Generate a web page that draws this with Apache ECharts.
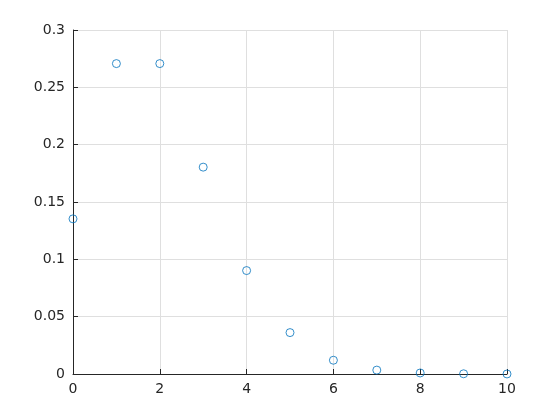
<!DOCTYPE html>
<html>
<head>
<meta charset="utf-8">
<script src="https://cdn.jsdelivr.net/npm/echarts@6/dist/echarts.min.js"></script>
<style>
  html, body { margin: 0; padding: 0; background: #fff; }
  #chart { width: 560px; height: 420px; }
</style>
</head>
<body>
<div id="chart"></div>
<script>
// values
const xs = [0, 1, 2, 3, 4, 5, 6, 7, 8, 9, 10]
const ys = [0.1353, 0.2707, 0.2707, 0.1804, 0.0902, 0.0361, 0.0120, 0.0034, 0.0009, 0.0002, 0.00004]

const textColor = '#262626'
const gridColor = '#dfdfdf'

const chart = echarts.init(document.getElementById('chart'))
chart.setOption({
  animation: false,
  grid: { left: 73, top: 30, width: 434, height: 344 },
  xAxis: {
    type: 'value',
    min: 0,
    max: 10,
    interval: 2,
    axisLine: { lineStyle: { color: textColor, width: 1 } },
    axisTick: { inside: true, length: 5, lineStyle: { color: textColor } },
    axisLabel: { color: textColor, fontSize: 14, fontFamily: 'DejaVu Sans', margin: 8 },
    splitLine: { show: true, lineStyle: { color: gridColor, width: 1 } }
  },
  yAxis: {
    type: 'value',
    min: 0,
    max: 0.3,
    interval: 0.05,
    axisLine: { show: true, lineStyle: { color: textColor, width: 1 } },
    axisTick: { show: true, inside: true, length: 5, lineStyle: { color: textColor } },
    axisLabel: { color: textColor, fontSize: 14, fontFamily: 'DejaVu Sans', margin: 8 },
    splitLine: { show: true, lineStyle: { color: gridColor, width: 1 } }
  },
  series: [
    {
      type: 'scatter',
      symbol: 'circle',
      symbolSize: 8,
      itemStyle: { color: 'rgba(0,0,0,0)', borderColor: '#0072BD', borderWidth: 1 },
      data: xs.map((x, i) => [x, ys[i]]),
      clip: false
    }
  ]
})
</script>
</body>
</html>
